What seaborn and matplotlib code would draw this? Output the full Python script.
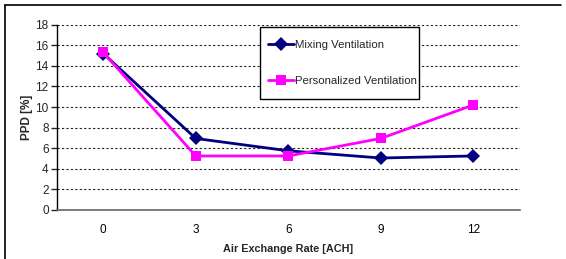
import matplotlib
matplotlib.use("Agg")
import matplotlib.pyplot as plt
import seaborn as sns
import pandas as pd
from matplotlib.lines import Line2D
from matplotlib.patches import Rectangle

ach = [0, 3, 6, 9, 12]
mixing = [15.2, 6.95, 5.75, 5.05, 5.25]
personalized = [15.3, 5.25, 5.25, 6.95, 10.2]
series_names = ["Mixing Ventilation", "Personalized Ventilation"]

df = pd.DataFrame({
    "ACH": ach * 2,
    "PPD": mixing + personalized,
    "Series": [series_names[0]] * len(ach) + [series_names[1]] * len(ach),
})

sns.set_style("white")
plt.rcParams["font.family"] = ["Liberation Sans", "DejaVu Sans"]

W, H = 566, 259
fig = plt.figure(figsize=(W / 100, H / 100), dpi=100)
ax = fig.add_axes([57 / W, 1 - 210 / H, 462.5 / W, 185.3 / H])

sns.lineplot(data=df, x="ACH", y="PPD", hue="Series", style="Series",
             palette={series_names[0]: "#000080", series_names[1]: "#FF00FF"},
             markers={series_names[0]: "D", series_names[1]: "s"},
             dashes=False, linewidth=2, markersize=7, markeredgewidth=0,
             ax=ax, legend=True, zorder=3)

ax.set_xlim(-1.5, 13.5)
ax.set_ylim(0, 18)
ax.set_yticks(range(0, 19, 2))
ax.set_xticks(ach)
ax.set_xticks([-1.5, 1.5, 4.5, 7.5, 10.5, 13.5], minor=True)
ax.tick_params(axis="x", which="major", length=0, pad=10, labelsize=8.5, colors="black")
ax.tick_params(axis="x", which="minor", length=4, width=1, direction="out", color="#555555")
ax.tick_params(axis="y", which="major", length=4, width=1, direction="out", labelsize=8.5, pad=2, left=True)
ax.yaxis.grid(True, linestyle=(0, (2, 2)), color="#222222", linewidth=0.8)
ax.xaxis.grid(False)
ax.set_axisbelow(True)

for s in ["top", "right"]:
    ax.spines[s].set_visible(False)
ax.spines["left"].set_color("black")
ax.spines["left"].set_linewidth(1)
ax.spines["bottom"].set_color("#666666")
ax.spines["bottom"].set_linewidth(1.2)

ax.set_xlabel("Air Exchange Rate [ACH]", fontsize=7.8, fontweight="bold", labelpad=6)
ax.set_ylabel("PPD [%]", fontsize=8.5, fontweight="bold", labelpad=2)

# legend frame box
box = Rectangle((203 / 462.5, (210 - 99) / 185.3), 159 / 462.5, 72 / 185.3,
                transform=ax.transAxes, facecolor="white", edgecolor="black",
                linewidth=1, zorder=5)
ax.add_patch(box)

leg = ax.legend(loc="center left", bbox_to_anchor=(211 / 462.5, (210 - 63) / 185.3),
                frameon=False, fontsize=8.2, labelspacing=2.3,
                handlelength=2.3, handletextpad=0.05, borderpad=0, borderaxespad=0)
leg.set_zorder(6)

fig.add_artist(Line2D([5 / W, 5 / W], [0, 1 - 5 / H], color="black", linewidth=1.2))
fig.add_artist(Line2D([5 / W, 561 / W], [1 - 5 / H, 1 - 5 / H], color="black", linewidth=1.2))

fig.savefig("out.png", dpi=100)
